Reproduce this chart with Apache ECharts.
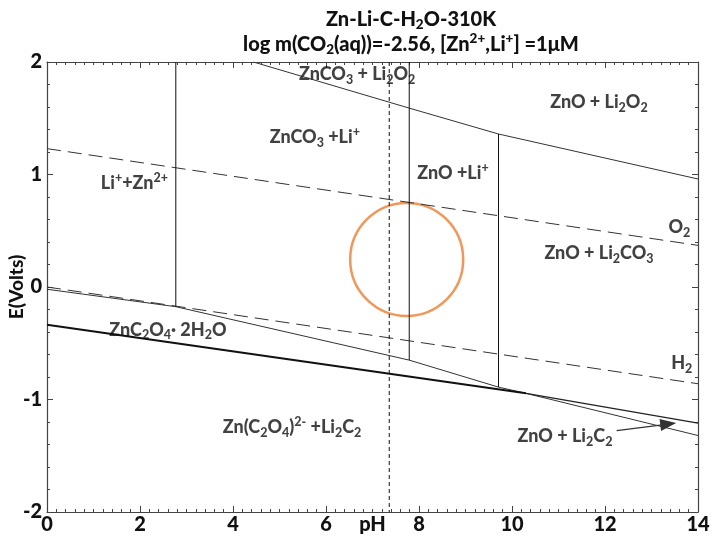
<!DOCTYPE html>
<html><head><meta charset="utf-8">
<script src="https://cdn.jsdelivr.net/npm/echarts@6/dist/echarts.min.js"></script>
<style>html,body{margin:0;padding:0;background:#fff}#c{width:713px;height:546px}</style>
</head><body><div id="c"></div>
<script>
// ---- data (pH, E in volts) ----
const xTicks = [0, 2, 4, 6, 8, 10, 12, 14];
const yTicks = [-2, -1, 0, 1, 2];
const o2Line = [[0, 1.23], [14, 0.37]];
const h2Line = [[0, 0.0], [14, -0.86]];
const peroxideBoundary = [[4.44, 2.0], [7.79, 1.59], [9.71, 1.36], [14, 0.96]];
const oxalateBoundary = [[0, -0.02], [2.77, -0.175], [7.79, -0.65], [9.71, -0.89], [10.3, -0.945], [14, -1.32]];
const carbideThick = [[0, -0.335], [10.3, -0.945]];
const carbideUpper = [[10.3, -0.945], [14, -1.21]];
const vLine1 = [[2.77, 2.0], [2.77, -0.175]];
const vLine2 = [[7.79, 2.0], [7.79, -0.65]];
const vLine3 = [[9.71, 1.36], [9.71, -0.89]];
const phMarker = [[7.36, 2.0], [7.36, -2.0]];
const circleCenter = [7.735, 0.245];
const arrowFrom = [12.25, -1.277];
const arrowTo = [13.36, -1.218];
const regionLabels = [
  '{n|ZnCO}{s|3}{n| + Li}{s|2}{n|O}{s|2}',
  '{n|ZnO + Li}{s|2}{n|O}{s|2}',
  '{n|ZnCO}{s|3}{n| +Li}{p|+}',
  '{n|Li}{p|+}{n|+Zn}{p|2+}',
  '{n|ZnO +Li}{p|+}',
  '{n|O}{s|2}',
  '{n|ZnO + Li}{s|2}{n|CO}{s|3}',
  '{n|ZnC}{s|2}{n|O}{s|4}{n|· 2H}{s|2}{n|O}',
  '{n|H}{s|2}',
  '{n|Zn(C}{s|2}{n|O}{s|4}{n|)}{p|2-}{n| +Li}{s|2}{n|C}{s|2}',
  '{n|ZnO + Li}{s|2}{n|C}{s|2}'
];
const labelPH = [6.67, 11.87, 5.76, 1.88, 8.73, 13.6, 11.87, 2.6, 13.65, 5.27, 11.14];
const labelE  = [1.89, 1.64, 1.33, 0.92, 1.01, 0.53, 0.30, -0.38, -0.68, -1.25, -1.33];

const F = 'Lato, "Open Sans", sans-serif';
const W = 900;
const TXT = '#111';
const rich = {
  n: {fontSize: 18, fontWeight: W, fontFamily: F, color: TXT, lineHeight: 24, verticalAlign: 'middle'},
  s: {fontSize: 12.5, fontWeight: W, fontFamily: F, color: TXT, lineHeight: 13, verticalAlign: 'bottom'},
  p: {fontSize: 12.5, fontWeight: W, fontFamily: F, color: TXT, lineHeight: 13, verticalAlign: 'top'}
};
const titleRich = {
  n: {fontSize: 20, fontWeight: W, fontFamily: F, color: TXT, lineHeight: 25, verticalAlign: 'middle'},
  s: {fontSize: 13.5, fontWeight: W, fontFamily: F, color: TXT, lineHeight: 13, verticalAlign: 'bottom'},
  p: {fontSize: 13.5, fontWeight: W, fontFamily: F, color: TXT, lineHeight: 13, verticalAlign: 'top'}
};

function lineSeries(data, opts) {
  return Object.assign({
    type: 'line', data: data, symbol: 'none', silent: true, animation: false,
    lineStyle: {color: '#222', width: 1}
  }, opts);
}

const axisCommon = {
  axisLine: {show: true, onZero: false, lineStyle: {color: '#444', width: 1.2}},
  axisTick: {show: true, inside: true, length: 6, lineStyle: {color: '#444'}},
  splitLine: {show: false}
};
const lblStyle = {fontSize: 20, fontWeight: W, fontFamily: F, color: TXT};

const chart = echarts.init(document.getElementById('c'), null, {renderer: 'canvas'});
chart.setOption({
  animation: false,
  backgroundColor: '#fff',
  title: {
    text: '{n|Zn-Li-C-H}{s|2}{n|O-310K}\n{n|log m(CO}{s|2}{n|(aq))=-2.56, [Zn}{p|2+}{n|,Li}{p|+}{n|] =1μM}',
    left: 406, top: 2, textAlign: 'center',
    textStyle: {rich: titleRich, fontFamily: F, fontWeight: W, fontSize: 20, lineHeight: 25}
  },
  grid: {left: 47, right: 15, top: 62, bottom: 34, containLabel: false, outerBoundsMode: 'none'},
  xAxis: [
    Object.assign({
      type: 'value', min: 0, max: 14, interval: 2, position: 'bottom',
      name: 'pH', nameLocation: 'middle', nameGap: 3, nameMoveOverlap: false,
      nameTextStyle: Object.assign({verticalAlign: 'top'}, lblStyle),
      axisLabel: Object.assign({margin: 3, formatter: v => xTicks.indexOf(v) >= 0 ? String(v) : ''}, lblStyle),
      minorTick: {show: true, splitNumber: 10, length: 3, lineStyle: {color: '#444'}}
    }, axisCommon),
    Object.assign({
      type: 'value', min: 0, max: 14, interval: 2, position: 'top',
      axisLabel: {show: false},
      minorTick: {show: true, splitNumber: 10, length: 3, lineStyle: {color: '#444'}}
    }, axisCommon)
  ],
  yAxis: [
    Object.assign({
      type: 'value', min: -2, max: 2, interval: 1, position: 'left',
      name: 'E(Volts)', nameLocation: 'middle', nameGap: 21, nameRotate: 90, nameMoveOverlap: false,
      nameTextStyle: {fontSize: 19, fontWeight: W, fontFamily: F, color: TXT},
      axisLabel: Object.assign({margin: 5, formatter: v => yTicks.indexOf(v) >= 0 ? String(v) : ''}, lblStyle),
      minorTick: {show: true, splitNumber: 5, length: 3, lineStyle: {color: '#444'}}
    }, axisCommon),
    Object.assign({
      type: 'value', min: -2, max: 2, interval: 1, position: 'right',
      axisLabel: {show: false},
      minorTick: {show: true, splitNumber: 5, length: 3, lineStyle: {color: '#444'}}
    }, axisCommon)
  ],
  series: [
    lineSeries(o2Line, {lineStyle: {color: '#333', width: 1, type: [14, 7]}}),
    lineSeries(h2Line, {lineStyle: {color: '#333', width: 1, type: [14, 7]}}),
    lineSeries(peroxideBoundary, {lineStyle: {color: '#333', width: 1}}),
    lineSeries(oxalateBoundary, {lineStyle: {color: '#333', width: 1}}),
    lineSeries(carbideThick, {lineStyle: {color: '#111', width: 2}}),
    lineSeries(carbideUpper, {lineStyle: {color: '#222', width: 1.2}}),
    lineSeries(vLine1, {lineStyle: {color: '#111', width: 1}}),
    lineSeries(vLine2, {lineStyle: {color: '#111', width: 1}}),
    lineSeries(vLine3, {lineStyle: {color: '#111', width: 1}}),
    lineSeries(phMarker, {lineStyle: {color: '#111', width: 1, type: [4, 3]}}),
    {
      type: 'scatter', silent: true, animation: false,
      data: [circleCenter], symbol: 'circle', symbolSize: 113,
      itemStyle: {color: 'rgba(0,0,0,0)', borderColor: '#ED7D31', borderWidth: 2.5}
    },
    {
      type: 'line', data: [], silent: true, animation: false,
      markLine: {
        silent: true, animation: false, symbol: ['none', 'triangle'], symbolSize: [12, 16],
        label: {show: false},
        lineStyle: {color: '#333', width: 1.3, type: 'solid'},
        data: [[{coord: arrowFrom}, {coord: arrowTo}]]
      }
    },
    {
      type: 'scatter', silent: true, animation: false, symbolSize: 0,
      data: labelPH.map((x, i) => ({
        value: [x, labelE[i]],
        label: {show: true, position: 'inside', formatter: regionLabels[i], rich: rich}
      }))
    }
  ]
});
</script></body></html>
